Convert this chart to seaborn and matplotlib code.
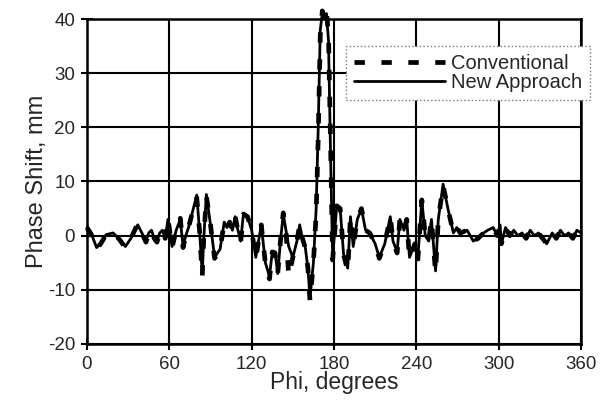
import matplotlib
matplotlib.use("Agg")
import matplotlib.pyplot as plt
import pandas as pd
import seaborn as sns

# Lecturas aproximadas del gráfico original
phi = [0, 3, 7, 10, 14, 19, 23, 28, 32, 37, 40, 43, 45, 47, 49, 51, 53, 55, 57, 59,
       62, 65, 68, 70, 72, 74, 77, 80, 82, 84, 85, 87, 90, 93, 97, 100, 102, 104, 106, 108,
       110, 112, 114, 117, 120, 123, 125, 127, 130, 133, 135, 137, 139, 141, 143, 145, 147, 150, 153, 155,
       157, 159, 161, 162.5, 165, 167, 168.5, 170, 171.5, 173, 174.5, 176, 177.5, 179, 182, 184.5, 187, 190, 192, 194,
       197, 200, 203, 206, 210, 213, 217, 221, 223, 226, 228, 231, 233, 235, 239, 241, 244, 246.5, 249, 251,
       254, 256, 259.5, 263, 267, 269.5, 272, 277, 281.5, 285, 289, 292, 296, 299, 301, 302, 305, 308, 311, 314,
       317, 320, 323, 326, 329, 332, 335, 336, 339, 342, 345, 348, 351, 354, 357, 360]

new_approach = [1.5, 0.5, -2.2, -1.5, 0.2, 0.5, -0.5, -2, -0.5, 2, 0.5, -1, 0.5, 1, -0.5, -1, 0.5, 1, -0.5, 3,
                -2, 1, 3, -2, 0, 1.5, 4.5, 7.5, 1, -7, -1, 7.6, 2, -4, -2.5, 2.5, 1.5, 2.5, 1, 3.5,
                1, -1, 4, 3.5, 1, -4, -1, 2, -5, -7.5, -3, -3, -7, -1, 4, 1, -2, -4, -1, 2,
                -0.5, -2, -6, -11.5, -5, 5, 20, 38, 41, 40, 41, 36, 15, -4, 5.5, 5, -3.5, -6, 3.5, -2,
                3, 5, 1, 0.5, -1.5, -4, -1.5, 3.5, -1, -3, 3, 1, 3, -4, -1.5, -4.5, 6.6, 0, -1, 3,
                -6.5, 3, 9.5, 5, 0.5, 1.5, 0.5, 1, -1, -0.5, 0.5, 1, 1.5, 0, 2, -1.5, 1.5, 0, 1, 0,
                0.5, -0.5, 1, 0, 0.5, -0.5, -1.5, -1, 0.5, -0.5, 1, 0, 0.5, -0.5, 1, 0.5]

conventional = [1.5, 0.3, -2.4, -1.5, 0.2, 0.6, -0.5, -2.2, -0.5, 2.2, 0.5, -1.2, 0.5, 1, -0.5, -1.2, 0.5, 1, -0.5, 3.2,
                -2.2, 1, 3.2, -2.2, 0, 1.5, 4.5, 7, 1, -7.5, -1, 7.3, 2, -4.2, -2.5, 2.5, 1.5, 2.5, 1, 3.5,
                1, -1.2, 4, 3.5, 1, -4.2, -1, 2, -5.2, -8, -3, -3.2, -7, -1, 4.2, 1, -7.5, -4, -1, 2,
                -0.5, -2.2, -6, -12, -5, 4, 18, 37, 41.5, 40, 41.5, 37, 17, -4.5, 5.5, 5, -3.5, -6.5, 3.5, -2,
                3, 5, 1, 0.5, -1.5, -4.2, -1.5, 3.5, -1, -3.2, 3, 1, 3, -4.2, -1.5, -4.8, 6.6, 0, -1, 3,
                -6.8, 3, 9.3, 5, 0.5, 1.5, 0.5, 1, -1, -0.5, 0.5, 1, 1.5, 0, 2, -1.5, 1.5, 0, 1, 0,
                0.5, -0.5, 1, 0, 0.5, -0.5, -1.5, -1, 0.5, -0.5, 1, 0, 0.5, -0.5, 1, 0.5]

x_ticks = [0, 60, 120, 180, 240, 300, 360]
y_ticks = [-20, -10, 0, 10, 20, 30, 40]

df = pd.DataFrame({"phi": phi, "Conventional": conventional, "New Approach": new_approach})

sns.set_style("white")
plt.rcParams["font.family"] = ["Liberation Sans", "DejaVu Sans"]
plt.rcParams["axes.unicode_minus"] = False

fig = plt.figure(figsize=(6.16, 4.08), dpi=100)
ax = fig.add_axes([0.1412, 0.1569, 0.8020, 0.7965])

sns.lineplot(data=df, x="phi", y="Conventional", ax=ax, color="black", linewidth=3.4,
             linestyle=(0, (2.2, 3.5)), label="Conventional", sort=False, clip_on=False)
sns.lineplot(data=df, x="phi", y="New Approach", ax=ax, color="black", linewidth=2.0,
             label="New Approach", sort=False, clip_on=False)

ax.set_xlim(0, 360)
ax.set_ylim(-20, 40)
ax.set_xticks(x_ticks)
ax.set_yticks(y_ticks)
ax.grid(True, color="black", linewidth=1.5)
ax.set_axisbelow(True)
for s in ax.spines.values():
    s.set_color("black")
    s.set_linewidth(1.8)
ax.tick_params(axis="both", direction="inout", length=9, width=1.5, color="black",
               labelsize=13.5, bottom=True, left=True, pad=4)
ax.set_xlabel("Phi, degrees", fontsize=16.5, labelpad=-1)
ax.set_ylabel("Phase Shift, mm", fontsize=17, labelpad=0)

leg = ax.legend(loc="upper left", bbox_to_anchor=(0.524, 0.917), fontsize=14.5,
                frameon=True, fancybox=False, handlelength=4.5, handletextpad=0.3,
                labelspacing=0.0, borderpad=0.4, borderaxespad=0)
leg.get_frame().set_edgecolor("#777777")
leg.get_frame().set_linestyle(":")
leg.get_frame().set_linewidth(1.0)
leg.get_frame().set_alpha(1)

fig.savefig("out.png", dpi=100)
